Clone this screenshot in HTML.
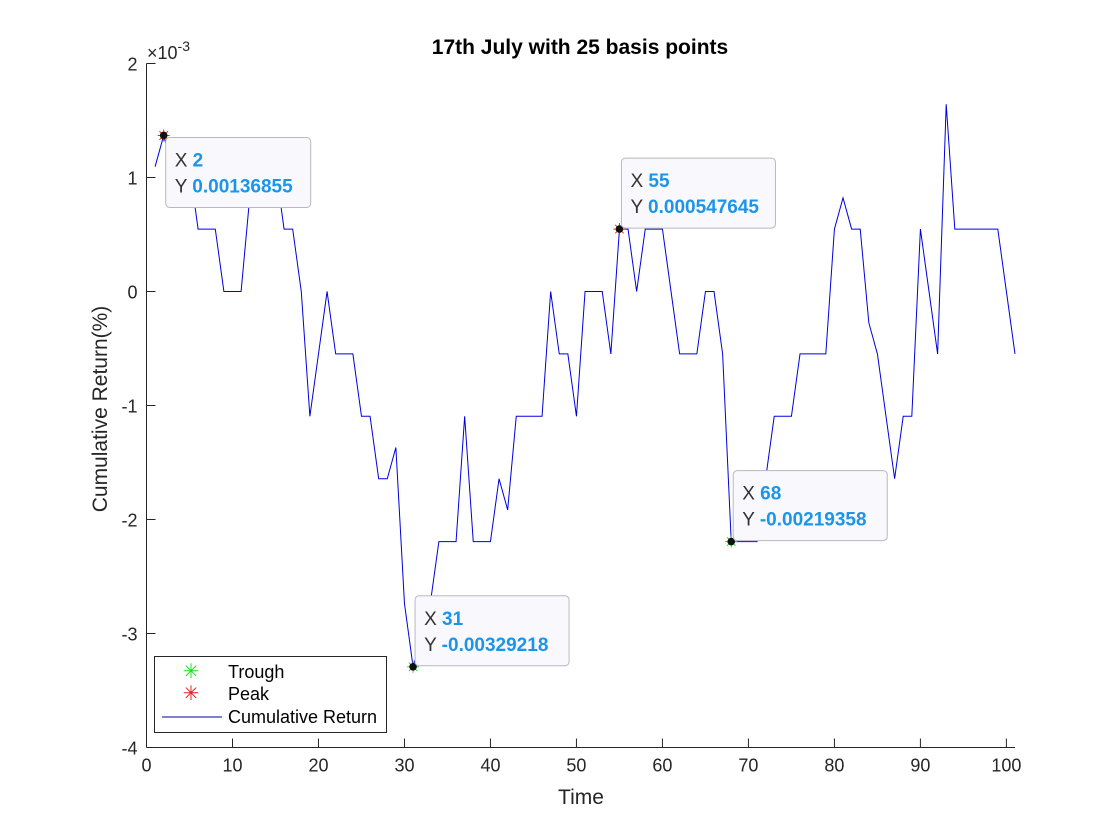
<!DOCTYPE html>
<html><head><meta charset="utf-8"><style>
html,body{margin:0;padding:0;background:#fff;}
svg{display:block;font-family:"Liberation Sans",Arial,sans-serif;}
</style></head><body>
<svg id="chart" width="1120" height="840" viewBox="0 0 1120 840" xmlns="http://www.w3.org/2000/svg">
<rect width="1120" height="840" fill="#fff"/>
<text x="580" y="54" text-anchor="middle" font-size="21" font-weight="bold" fill="#000">17th July with 25 basis points</text>
<text x="581" y="804" text-anchor="middle" font-size="21" fill="#262626">Time</text>
<text transform="translate(107,409) rotate(-90)" text-anchor="middle" font-size="21" fill="#262626">Cumulative Return(%)</text>
<text x="147" y="59" font-size="18" fill="#262626">×10<tspan dy="-8" font-size="14">-3</tspan></text>
<g id="axes"></g>
<g id="series"></g>
<g id="tips"></g>
<g>
<rect x="154.5" y="656.5" width="232" height="76" fill="#fff" stroke="#262626" stroke-width="1"/>
<text x="191" y="678" text-anchor="middle" font-size="20" fill="#22dd22">✳</text>
<text x="228" y="678" font-size="18" fill="#000">Trough</text>
<text x="191" y="700" text-anchor="middle" font-size="20" fill="#dd2222">✳</text>
<text x="228" y="700" font-size="18" fill="#000">Peak</text>
<line x1="162" y1="717" x2="222" y2="717" stroke="#0000aa" stroke-width="1"/>
<text x="228" y="723" font-size="18" fill="#000">Cumulative Return</text>
</g>
</svg>
<script>
const xTicks = [0,10,20,30,40,50,60,70,80,90,100];
const yTicks = [-4,-3,-2,-1,0,1,2];
const timeValues = [1,2,3,4,5,6,7,8,9,10,11,12,13,14,15,16,17,18,19,20,21,22,23,24,25,26,27,28,29,30,31,32,33,34,35,36,37,38,39,40,41,42,43,44,45,46,47,48,49,50,51,52,53,54,55,56,57,58,59,60,61,62,63,64,65,66,67,68,69,70,71,72,73,74,75,76,77,78,79,80,81,82,83,84,85,86,87,88,89,90,91,92,93,94,95,96,97,98,99,100,101];
const returnValues = [1.0948,1.3686,1.0948,1.0948,1.0948,0.5476,0.5476,0.5476,0,0,0,0.8211,1.0948,1.0948,1.0948,0.5476,0.5476,0,-1.0948,-0.5476,0,-0.5476,-0.5476,-0.5476,-1.0948,-1.0948,-1.6423,-1.6423,-1.3686,-2.7371,-3.2922,-3.0108,-2.7371,-2.1936,-2.1936,-2.1936,-1.0948,-2.1936,-2.1936,-2.1936,-1.6423,-1.9160,-1.0948,-1.0948,-1.0948,-1.0948,0,-0.5476,-0.5476,-1.0948,0,0,0,-0.5476,0.5476,0.5476,0,0.5476,0.5476,0.5476,0,-0.5476,-0.5476,-0.5476,0,0,-0.5476,-2.1936,-2.1936,-2.1936,-2.1936,-1.6423,-1.0948,-1.0948,-1.0948,-0.5476,-0.5476,-0.5476,-0.5476,0.5476,0.8211,0.5476,0.5476,-0.2737,-0.5476,-1.0948,-1.6423,-1.0948,-1.0948,0.5476,0,-0.5476,1.6423,0.5476,0.5476,0.5476,0.5476,0.5476,0.5476,0,-0.5476];
const peakX = [2,55];
const peakY = [1.36855,0.547645];
const peakLabels = ["0.00136855","0.000547645"];
const troughX = [31,68];
const troughY = [-3.29218,-2.19358];
const troughLabels = ["-0.00329218","-0.00219358"];

const NS="http://www.w3.org/2000/svg";
const L=146.5,R=1015,T=63.5,B=747.5,XMIN=0,XMAX=101,YMIN=-4,YMAX=2;
function sx(v){return L+(v-XMIN)/(XMAX-XMIN)*(R-L);}
function sy(v){return B-(v-YMIN)/(YMAX-YMIN)*(B-T);}
function mk(tag,attrs,parent){const e=document.createElementNS(NS,tag);for(const k in attrs)e.setAttribute(k,attrs[k]);parent.appendChild(e);return e;}
const axes=document.getElementById('axes');
let e=mk('line',{x1:L,y1:T,x2:L,y2:B,stroke:'#262626','stroke-width':1},axes);


e=mk('line',{x1:L,y1:B,x2:R,y2:B,stroke:'#262626','stroke-width':1},axes);


xTicks.forEach(t=>{
  const x=sx(t);
  let l=mk('line',{x1:x,y1:B,x2:x,y2:B-9,stroke:'#262626','stroke-width':1},axes);
  
  
  let tx=mk('text',{x:x,y:B+24,'text-anchor':'middle','font-size':18,fill:'#262626'},axes);
  tx.textContent=t;
  
  
});
yTicks.forEach(t=>{
  const y=sy(t);
  let l=mk('line',{x1:L,y1:y,x2:L+9,y2:y,stroke:'#262626','stroke-width':1},axes);
  
  
  let tx=mk('text',{x:L-9,y:y+7,'text-anchor':'end','font-size':18,fill:'#262626'},axes);
  tx.textContent=t;
  
  
});
const series=document.getElementById('series');
const pts=timeValues.map((t,i)=>sx(t).toFixed(2)+','+sy(returnValues[i]).toFixed(2)).join(' ');
const pl=mk('polyline',{points:pts,fill:'none',stroke:'#0000dd','stroke-width':1},series);


function star(x,y,color,parent){
  const g=mk('g',{},parent);
  for(let a=0;a<4;a++){const an=a*Math.PI/4;mk('line',{x1:x-6*Math.cos(an),y1:y-6*Math.sin(an),x2:x+6*Math.cos(an),y2:y+6*Math.sin(an),stroke:color,'stroke-width':1},g);}
  mk('circle',{cx:x,cy:y,r:3.8,fill:'#111'},g);
  return g;
}
peakX.forEach((px,i)=>{
  const g=star(sx(px),sy(peakY[i]),'#e03020',series);
  
  
});
troughX.forEach((px,i)=>{
  const g=star(sx(px),sy(troughY[i]),'#30d030',series);
  
  
});
const tips=document.getElementById('tips');
function tip(xv,yv,lab){
  const x=sx(xv)+2,y=sy(yv)+2;
  const w=lab.length>10?154:145;
  const g=mk('g',{},tips);
  mk('rect',{x:x,y:y,width:w,height:70,rx:4,fill:'#f9f9fd',stroke:'#b8b8c0','stroke-width':1},g);
  let t=mk('text',{x:x+9,y:y+29,'font-size':19,fill:'#333'},g);
  t.innerHTML='X <tspan fill="#1a95ea" font-weight="bold">'+xv+'</tspan>';
  t=mk('text',{x:x+9,y:y+55,'font-size':19,fill:'#333'},g);
  t.innerHTML='Y <tspan fill="#1a95ea" font-weight="bold">'+lab+'</tspan>';
  return g;
}
function tipUp(xv,yv,lab){
  const g=tip(xv,yv,lab);
  g.setAttribute('transform','translate(0,-73)');
  return g;
}
peakX.forEach((px,i)=>{
  const g= i===0 ? tip(px,peakY[i],peakLabels[i]) : tipUp(px,peakY[i],peakLabels[i]);
  
  
});
troughX.forEach((px,i)=>{
  const g=tipUp(px,troughY[i],troughLabels[i]);
  
  
});
</script>
</body></html>
